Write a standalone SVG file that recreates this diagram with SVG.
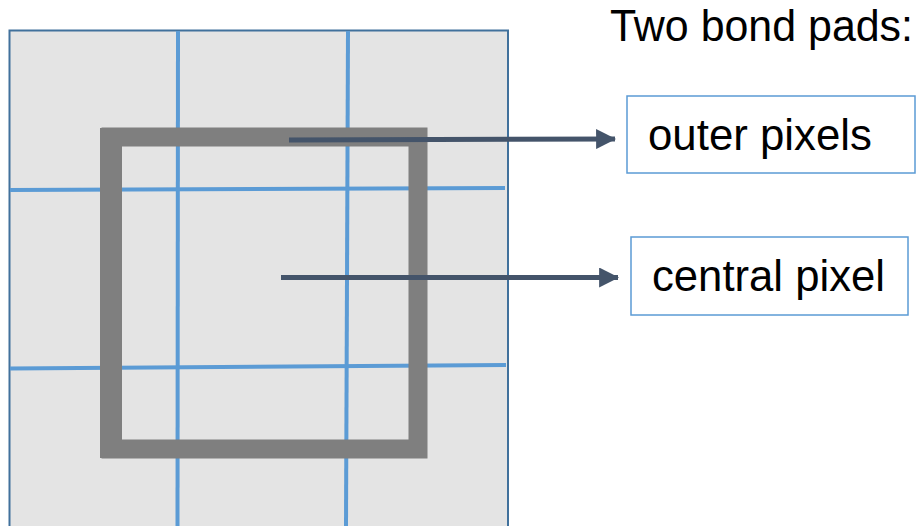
<svg xmlns="http://www.w3.org/2000/svg" width="923" height="526" viewBox="0 0 923 526">
  <style>
    .grid { stroke: #5b9bd5; stroke-width: 4; fill: none; }
    .pad { stroke: #7f7f7f; fill: none; }
    .conn { stroke: #44546a; stroke-width: 5; fill: none; }
    .box { fill: #ffffff; stroke: #5b9bd5; stroke-width: 1.5; }
    .lbl { font-family: "Liberation Sans", Arial, sans-serif; font-size: 44px; fill: #000000; }
  </style>
  <defs>
    <marker id="arrow" markerUnits="userSpaceOnUse" markerWidth="20" markerHeight="20" viewBox="0 0 18 18" refX="17" refY="9" orient="auto">
      <path d="M0,0 L18,9 L0,18 Z" fill="#44546a"/>
    </marker>
  </defs>
  <rect width="923" height="526" fill="#ffffff"/>
  <g id="sensor">
    <rect x="9.5" y="30.5" width="498.5" height="510" fill="#e4e4e4" stroke="#41719c" stroke-width="2"/>
    <line class="grid" x1="178" y1="31" x2="177.5" y2="526"/>
    <line class="grid" x1="348" y1="31" x2="346" y2="526"/>
    <line class="grid" x1="10" y1="190" x2="505" y2="188"/>
    <line class="grid" x1="10" y1="368.5" x2="506" y2="365"/>
  </g>
  <g id="bond-pad-outer">
    <path class="pad" d="M111 137 H418 V449 H111 Z" stroke-width="19"/>
    <rect x="100" y="440" width="326" height="18" fill="#7f7f7f"/>
    <rect x="100" y="128" width="22" height="330" fill="#7f7f7f"/>
  </g>
  <g id="connectors">
    <line class="conn" x1="289" y1="140" x2="615" y2="139" marker-end="url(#arrow)"/>
    <line class="conn" x1="281" y1="277.5" x2="618" y2="277.5" marker-end="url(#arrow)"/>
  </g>
  <g id="title">
    <text class="lbl" x="610" y="41" textLength="303" lengthAdjust="spacingAndGlyphs">Two bond pads:</text>
  </g>
  <g id="outer-pixels">
    <rect class="box" x="627" y="96" width="288" height="77"/>
    <text class="lbl" x="648" y="150" textLength="224" lengthAdjust="spacingAndGlyphs">outer pixels</text>
  </g>
  <g id="central-pixel">
    <rect class="box" x="631" y="237" width="277" height="78"/>
    <text class="lbl" x="652" y="291" textLength="233" lengthAdjust="spacingAndGlyphs">central pixel</text>
  </g>
</svg>
